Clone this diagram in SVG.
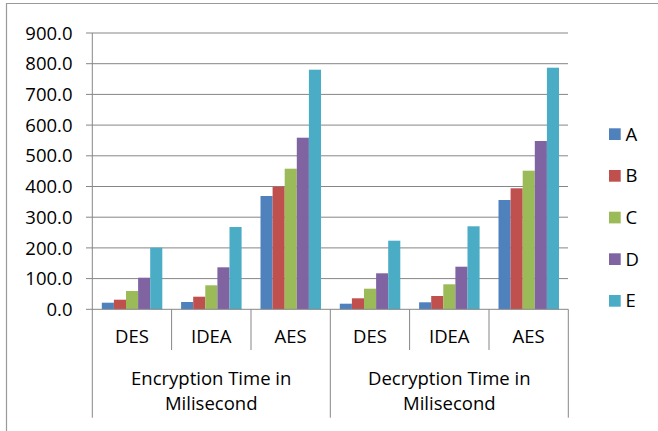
<svg xmlns="http://www.w3.org/2000/svg" width="658" height="431" viewBox="0 0 658 431">
  <style>
    text { font-family: "Open Sans", "Liberation Sans", sans-serif; font-size: 18.5px; fill: #000; }
    .grid { stroke: #868686; stroke-width: 1; fill: none; }
    .frame { stroke: #9a9a9a; stroke-width: 1.2; fill: none; }
    .ylab { text-anchor: end; }
    .cat { text-anchor: middle; }
    .sA { fill: #4F81BD; }
    .sB { fill: #C0504D; }
    .sC { fill: #9BBB59; }
    .sD { fill: #8064A2; }
    .sE { fill: #4BACC6; }
  </style>

  <rect width="658" height="431" fill="#fff"/>
  <!-- chart frame (top and left edges) -->
  <path class="frame" d="M6 3.5 H658 M6.5 3 V431"/>

  <!-- horizontal gridlines with their tick stubs -->
  <g id="gridlines" class="grid">
    <path d="M86 33 H568 M86 63.7 H568 M86 94.4 H568 M86 125.1 H568 M86 155.8 H568 M86 186.5 H568 M86 217.2 H568 M86 247.9 H568 M86 278.6 H568"/>
  </g>

  <!-- value axis labels -->
  <g id="y-axis-labels">
    <text class="ylab" x="72.5" y="39.6">900.0</text>
    <text class="ylab" x="72.5" y="70.3">800.0</text>
    <text class="ylab" x="72.5" y="101">700.0</text>
    <text class="ylab" x="72.5" y="131.7">600.0</text>
    <text class="ylab" x="72.5" y="162.4">500.0</text>
    <text class="ylab" x="72.5" y="193.1">400.0</text>
    <text class="ylab" x="72.5" y="223.8">300.0</text>
    <text class="ylab" x="72.5" y="254.5">200.0</text>
    <text class="ylab" x="72.5" y="285.2">100.0</text>
    <text class="ylab" x="72.5" y="315.9">0.0</text>
  </g>

  <!-- series bars -->
  <g id="series-A" class="sA">
    <rect x="101.8" y="302.7" width="12.1" height="6.6"/>
    <rect x="181.1" y="302" width="12.1" height="7.3"/>
    <rect x="260.5" y="196" width="12.1" height="113.3"/>
    <rect x="339.8" y="303.7" width="12.1" height="5.6"/>
    <rect x="419.1" y="302.3" width="12.1" height="7"/>
    <rect x="498.5" y="200" width="12.1" height="109.3"/>
  </g>
  <g id="series-B" class="sB">
    <rect x="113.9" y="299.7" width="12.1" height="9.6"/>
    <rect x="193.2" y="296.7" width="12.1" height="12.6"/>
    <rect x="272.6" y="186.7" width="12.1" height="122.6"/>
    <rect x="351.9" y="298.3" width="12.1" height="11"/>
    <rect x="431.2" y="296" width="12.1" height="13.3"/>
    <rect x="510.6" y="188.3" width="12.1" height="121"/>
  </g>
  <g id="series-C" class="sC">
    <rect x="126" y="291" width="12.1" height="18.3"/>
    <rect x="205.3" y="285.3" width="12.1" height="24"/>
    <rect x="284.7" y="168.7" width="12.1" height="140.6"/>
    <rect x="364" y="288.7" width="12.1" height="20.6"/>
    <rect x="443.3" y="284.3" width="12.1" height="25"/>
    <rect x="522.7" y="170.7" width="12.1" height="138.6"/>
  </g>
  <g id="series-D" class="sD">
    <rect x="138.1" y="277.7" width="12.1" height="31.6"/>
    <rect x="217.4" y="267.3" width="12.1" height="42"/>
    <rect x="296.8" y="137.7" width="12.1" height="171.6"/>
    <rect x="376.1" y="273.3" width="12.1" height="36"/>
    <rect x="455.4" y="266.7" width="12.1" height="42.6"/>
    <rect x="534.8" y="141" width="12.1" height="168.3"/>
  </g>
  <g id="series-E" class="sE">
    <rect x="150.2" y="247.7" width="12.1" height="61.6"/>
    <rect x="229.5" y="227" width="12.1" height="82.3"/>
    <rect x="308.9" y="69.7" width="12.1" height="239.6"/>
    <rect x="388.2" y="240.7" width="12.1" height="68.6"/>
    <rect x="467.5" y="226.3" width="12.1" height="83"/>
    <rect x="546.9" y="67.7" width="12.1" height="241.6"/>
  </g>

  <!-- axes and category dividers -->
  <g id="axes" class="grid">
    <path d="M86 309.3 H568.3"/>
    <path d="M92.3 33 V417.7 M330.3 309.3 V417.7 M568.3 309.3 V417.7"/>
    <path d="M171.6 309.3 V350 M251 309.3 V350 M409.6 309.3 V350 M489 309.3 V350"/>
  </g>

  <!-- category labels -->
  <g id="categories">
    <text class="cat" x="131.9" y="343.3">DES</text>
    <text class="cat" x="211.3" y="343.3">IDEA</text>
    <text class="cat" x="290.6" y="343.3">AES</text>
    <text class="cat" x="369.9" y="343.3">DES</text>
    <text class="cat" x="449.3" y="343.3">IDEA</text>
    <text class="cat" x="528.6" y="343.3">AES</text>
  </g>
  <g id="group-encryption">
    <text class="cat" x="211.2" y="385">Encryption Time in</text>
    <text class="cat" x="211.2" y="410">Milisecond</text>
  </g>
  <g id="group-decryption">
    <text class="cat" x="449.3" y="385">Decryption Time in</text>
    <text class="cat" x="449.3" y="410">Milisecond</text>
  </g>

  <!-- legend -->
  <g id="legend">
    <g id="legend-A"><rect class="sA" x="609" y="128.3" width="11.7" height="11.7"/><text x="625.5" y="140.5">A</text></g>
    <g id="legend-B"><rect class="sB" x="609" y="170" width="11.7" height="11.7"/><text x="625.5" y="182.2">B</text></g>
    <g id="legend-C"><rect class="sC" x="609" y="211.7" width="11.7" height="11.7"/><text x="625.5" y="223.9">C</text></g>
    <g id="legend-D"><rect class="sD" x="609" y="253.3" width="11.7" height="11.7"/><text x="625.5" y="265.5">D</text></g>
    <g id="legend-E"><rect class="sE" x="609" y="295" width="11.7" height="11.7"/><text x="625.5" y="307.2">E</text></g>
  </g>
</svg>
